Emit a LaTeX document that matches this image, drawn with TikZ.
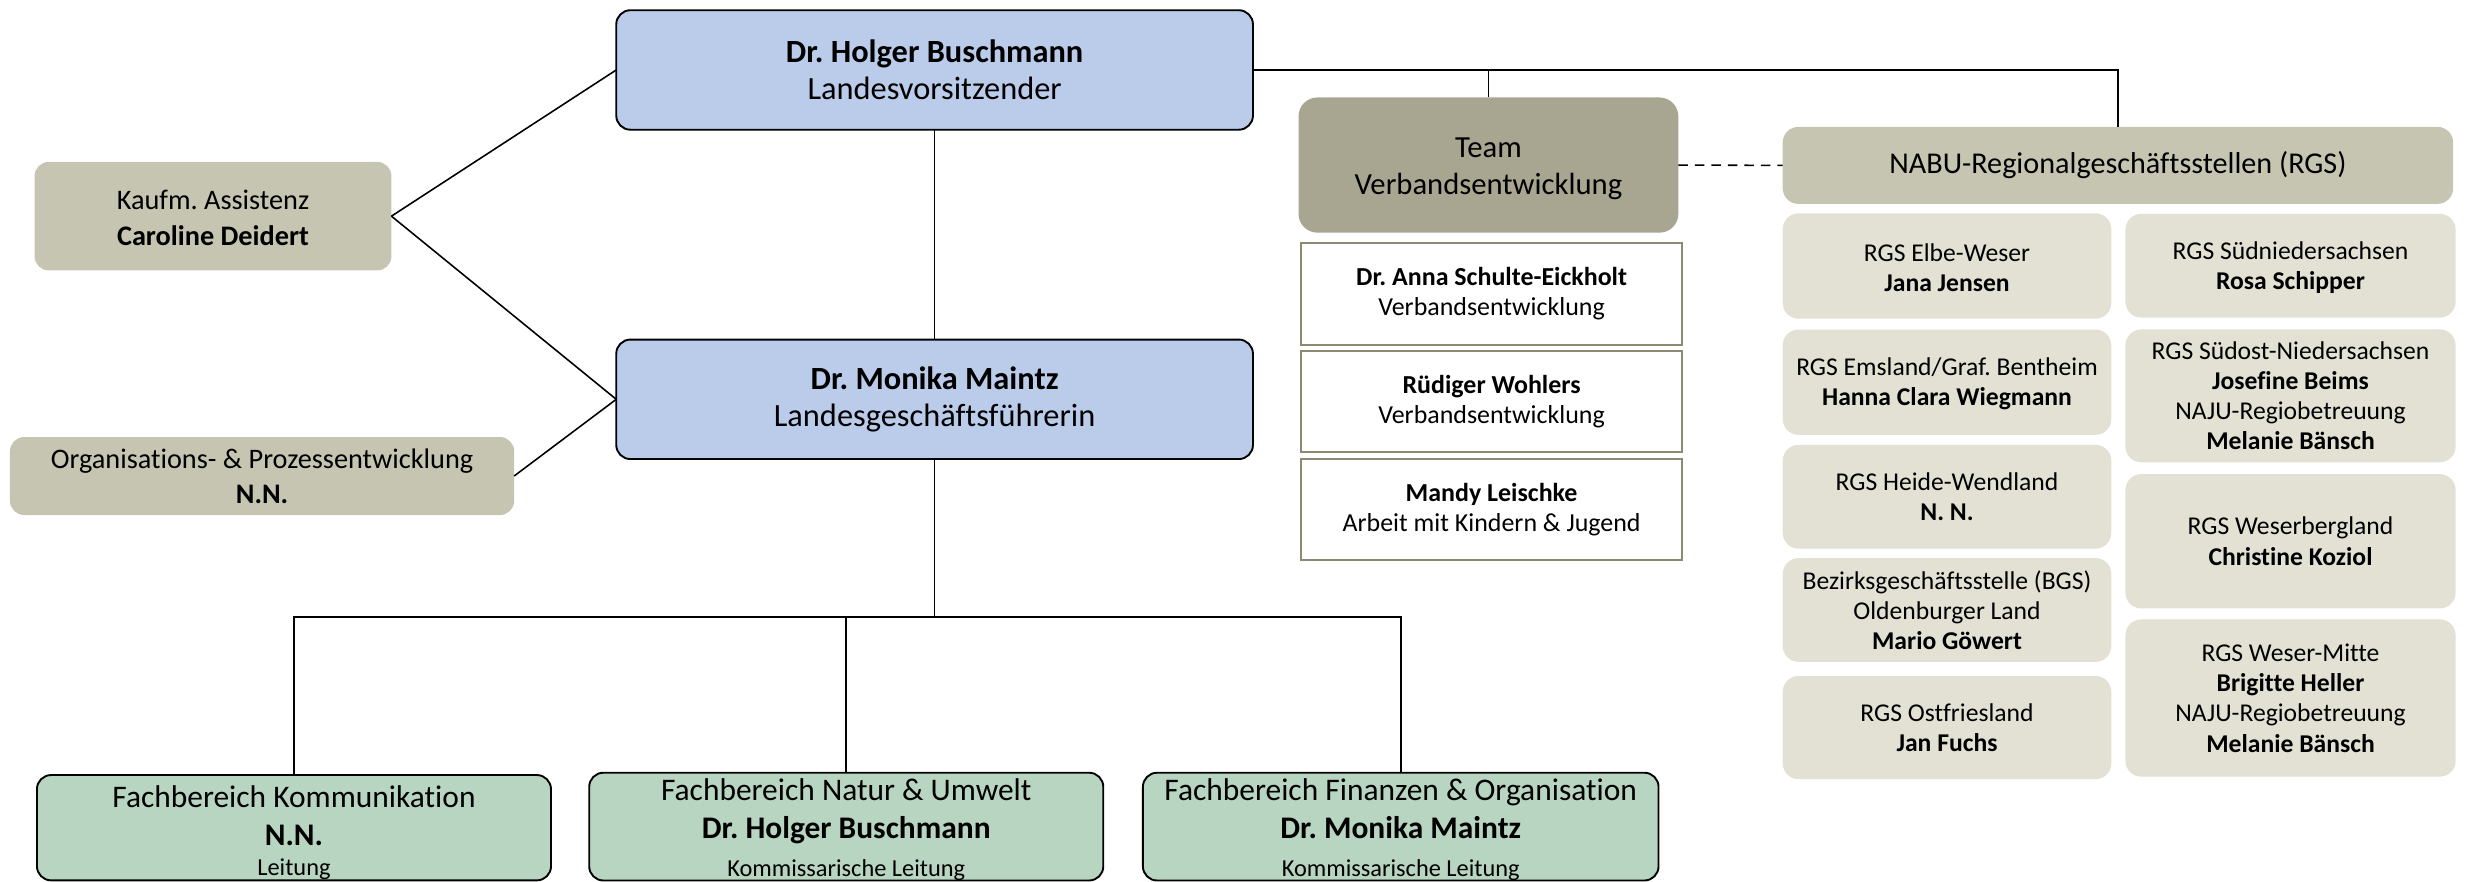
\documentclass[tikz,border=0pt]{standalone}
\usepackage{fontspec}
\setmainfont{Carlito}[Ligatures=NoCommon]
\definecolor{boxblue}{RGB}{186,204,234}
\definecolor{boxgreen}{RGB}{183,213,193}
\definecolor{boxbeige}{RGB}{198,197,178}
\definecolor{boxolive}{RGB}{168,166,144}
\definecolor{boxlight}{RGB}{226,225,212}
\definecolor{boxframe}{RGB}{140,138,115}
\newcommand\fsz[2]{\fontsize{#1}{#2}\selectfont}
\newcommand\topgap[2]{\raisebox{0pt}[\dimexpr\height+#1\relax]{#2}}
\begin{document}
\frenchspacing
\begin{tikzpicture}[x=1pt,y=-1pt,
  every node/.style={inner sep=0pt, outer sep=0pt, align=center, text=black},
  mainbox/.style={draw=black, line width=1.2pt, rounded corners=9pt},
  bluebox/.style={mainbox, fill=boxblue, minimum width=405pt, minimum height=76pt, font=\fsz{20.6}{23.5}},
  greenbox/.style={mainbox, fill=boxgreen, minimum width=327pt, minimum height=67pt, font=\fsz{20}{24}},
  beigebox/.style={fill=boxbeige, rounded corners=9pt, font=\fsz{18}{22.5}},
  teambox/.style={fill=boxolive, rounded corners=12pt, minimum width=241.6pt, minimum height=86pt, font=\fsz{19.5}{23.3}},
  whitebox/.style={draw=boxframe, line width=1.4pt, fill=white, minimum width=242.4pt, minimum height=64.5pt, font=\fsz{16.5}{19.2}},
  rgsbox/.style={fill=boxlight, rounded corners=10pt, minimum width=209pt, font=\fsz{16.3}{19.2}},
  conn/.style={draw=black, line width=1pt}
]
\useasboundingbox (0,0) rectangle (1568,560.5);

% main boxes
\node[bluebox] (holger) at (594.5,44.5) {\textbf{Dr. Holger Buschmann}\\Landesvorsitzender};
\node[bluebox] (monika) at (594.5,254) {\textbf{Dr. Monika Maintz}\\Landesgeschäftsführerin};

\node[beigebox, minimum width=227pt, minimum height=69pt] (kaufm) at (135.5,137.5) {\topgap{2pt}{Kaufm. Assistenz}\\\textbf{Caroline Deidert}};
\node[beigebox, minimum width=320.7pt, minimum height=49.6pt] (orga) at (166.7,302.8) {Organisations- \& Prozessentwicklung\\\textbf{N.N.}};

% bottom boxes
\node[greenbox] (komm) at (187,526.5) {\topgap{6pt}{Fachbereich Kommunikation}\\\textbf{N.N.}\\[-5pt]{\fsz{15.5}{18}Leitung}};
\node[greenbox] (natur) at (538.3,525.8) {\topgap{4pt}{Fachbereich Natur \& Umwelt}\\\textbf{Dr. Holger Buschmann}\\{\fsz{15.5}{18}Kommissarische Leitung}};
\node[greenbox, minimum width=328pt] (finanz) at (891,525.8) {\topgap{4pt}{Fachbereich Finanzen \& Organisation}\\\textbf{Dr. Monika Maintz}\\{\fsz{15.5}{18}Kommissarische Leitung}};

% team
\node[teambox] (team) at (946.8,105) {\topgap{5pt}{Team}\\Verbandsentwicklung};
\node[whitebox] (anna) at (948.8,187) {\textbf{Dr. Anna Schulte-Eickholt}\\Verbandsentwicklung};
\node[whitebox] (ruediger) at (948.8,255.5) {\textbf{Rüdiger Wohlers}\\Verbandsentwicklung};
\node[whitebox] (mandy) at (948.8,324) {\textbf{Mandy Leischke}\\Arbeit mit Kindern \& Jugend};

% RGS
\node[beigebox, rounded corners=10pt, minimum width=426.5pt, minimum height=49pt, font=\fsz{19.2}{22}] (rgs) at (1347.2,105.2) {NABU-Regionalgeschäftsstellen (RGS)};

\node[rgsbox, minimum height=67pt] (elbe) at (1238.5,169.2) {\topgap{2pt}{RGS Elbe-Weser}\\\textbf{Jana Jensen}};
\node[rgsbox, minimum height=67pt] (ems) at (1238.5,243.1) {\topgap{2pt}{RGS Emsland/Graf. Bentheim}\\\textbf{Hanna Clara Wiegmann}};
\node[rgsbox, minimum height=66pt] (heide) at (1238.5,316) {RGS Heide-Wendland\\\textbf{N. N.}};
\node[rgsbox, minimum height=66pt] (bgs) at (1238.5,388) {Bezirksgeschäftsstelle (BGS)\\Oldenburger Land\\\textbf{Mario Göwert}};
\node[rgsbox, minimum height=65.6pt] (ostfr) at (1238.5,462.8) {RGS Ostfriesland\\\textbf{Jan Fuchs}};

\node[rgsbox, minimum width=210pt, minimum height=66pt] (sued) at (1457,169) {\topgap{2pt}{RGS Südniedersachsen}\\\textbf{Rosa Schipper}};
\node[rgsbox, minimum width=210pt, minimum height=84.5pt] (suedost) at (1457,251.8) {RGS Südost-Niedersachsen\\\textbf{Josefine Beims}\\NAJU-Regiobetreuung\\\textbf{Melanie Bänsch}};
\node[rgsbox, minimum width=210pt, minimum height=85.4pt] (weserb) at (1457,344.3) {RGS Weserbergland\\\textbf{Christine Koziol}};
\node[rgsbox, minimum width=210pt, minimum height=100pt] (weserm) at (1457,444) {RGS Weser-Mitte\\\textbf{Brigitte Heller}\\NAJU-Regiobetreuung\\\textbf{Melanie Bänsch}};

% connectors
\draw[conn] (kaufm.east) -- (holger.west);
\draw[conn] (kaufm.east) -- (monika.west);
\draw[conn] (orga.east) -- (monika.west);
\draw[conn] (holger.south) -- (monika.north);
\coordinate (bus) at (594.5,392.5);
\draw[conn] (monika.south) -- (bus);
\draw[conn] (bus) -| (komm.north);
\draw[conn] (bus) -| (natur.north);
\draw[conn] (bus) -| (finanz.north);
\draw[conn] (holger.east) -| (rgs.north);
\draw[conn] (holger.east -| team.north) -- (team.north);
\draw[conn, dash pattern=on 6pt off 4.5pt] (team.east) -- (rgs.west);
\end{tikzpicture}
\end{document}
